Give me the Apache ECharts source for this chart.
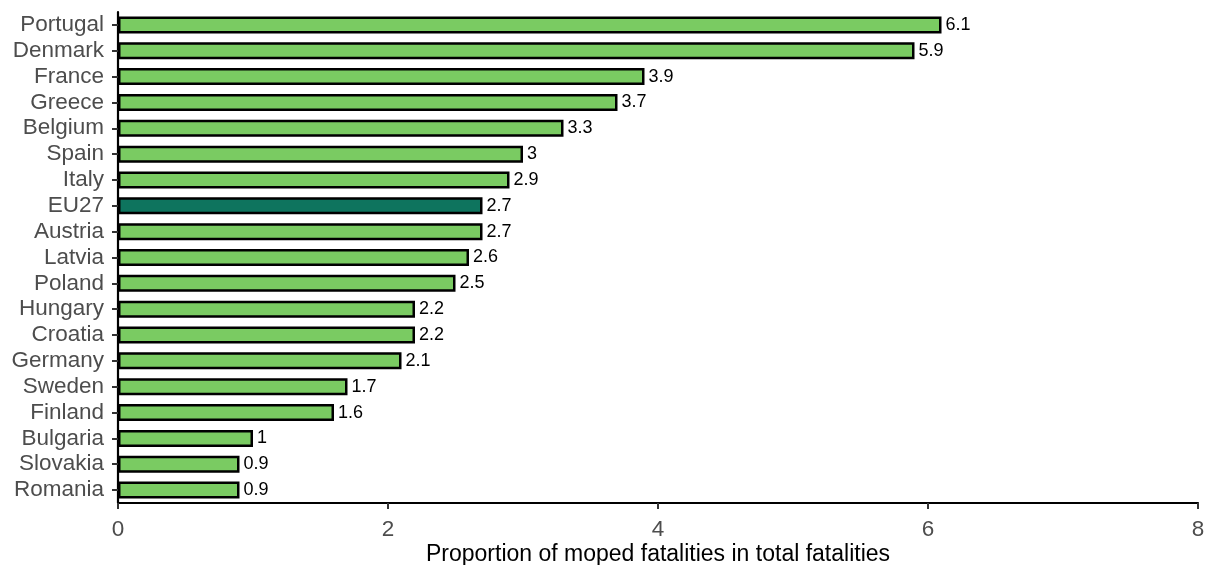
<!DOCTYPE html>
<html><head><meta charset="utf-8">
<script src="https://cdn.jsdelivr.net/npm/echarts@6/dist/echarts.min.js"></script>
<style>html,body{margin:0;padding:0;background:#fff}#c{width:1206px;height:565px}</style>
</head><body><div id="c"></div>
<script>
const countries = ["Portugal","Denmark","France","Greece","Belgium","Spain","Italy","EU27","Austria","Latvia","Poland","Hungary","Croatia","Germany","Sweden","Finland","Bulgaria","Slovakia","Romania"];
const values = [6.1,5.9,3.9,3.7,3.3,3,2.9,2.7,2.7,2.6,2.5,2.2,2.2,2.1,1.7,1.6,1,0.9,0.9];
const highlight = "EU27";
const xTicks = [0,2,4,6,8];
const xTitle = "Proportion of moped fatalities in total fatalities";

const chart = echarts.init(document.getElementById('c'), null, {renderer:'canvas'});
chart.setOption({
  animation:false,
  backgroundColor:'#fff',
  textStyle:{fontFamily:'Liberation Sans, Arial, sans-serif'},
  grid:{left:118,right:8,top:12,bottom:62,containLabel:false,outerBoundsMode:'none'},
  xAxis:{type:'value',min:xTicks[0],max:xTicks[xTicks.length-1],interval:2,
    name:xTitle,nameLocation:'middle',nameGap:52,nameMoveOverlap:false,
    nameTextStyle:{color:'#000',fontSize:23,verticalAlign:'middle'},
    axisLine:{show:true,lineStyle:{color:'#000',width:2.2}},
    axisTick:{show:true,length:6,lineStyle:{color:'#333',width:2}},
    axisLabel:{color:'#4d4d4d',fontSize:22.5,margin:15},
    splitLine:{show:false}},
  yAxis:{type:'category',data:countries,inverse:true,
    axisLine:{show:true,lineStyle:{color:'#000',width:2.2}},
    axisTick:{show:true,length:6,alignWithLabel:true,interval:0,lineStyle:{color:'#333',width:2}},
    axisLabel:{color:'#4d4d4d',fontSize:22.5,margin:14,interval:0}},
  series:[{type:'bar',barWidth:17,
    data:values.map((v,i)=>({value:v,itemStyle:{color:countries[i]===highlight?'#0e745e':'#7acb62'}})),
    itemStyle:{borderColor:'#000',borderWidth:2.5},
    label:{show:true,position:'right',distance:4,color:'#000',fontSize:18}}]
});
</script></body></html>
